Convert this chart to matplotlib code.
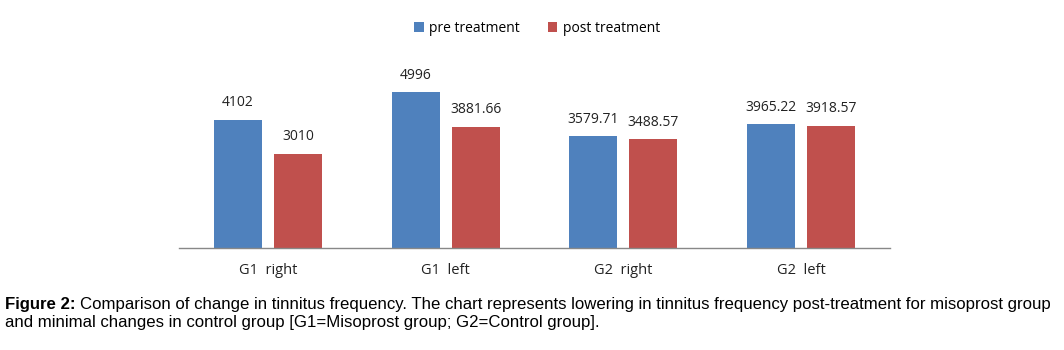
import matplotlib
matplotlib.use("Agg")
import matplotlib.pyplot as plt
import numpy as np

categories = ["G1  right", "G1  left", "G2  right", "G2  left"]
pre_vals = [4102, 4996, 3579.71, 3965.22]
post_vals = [3010, 3881.66, 3488.57, 3918.57]
pre_labels = ["4102", "4996", "3579.71", "3965.22"]
post_labels = ["3010", "3881.66", "3488.57", "3918.57"]
series_names = ["pre treatment", "post treatment"]

blue = "#4F81BD"
red = "#C0504D"

W, H = 1064, 350
fig = plt.figure(figsize=(W / 100, H / 100), dpi=100)
ax = fig.add_axes([179 / W, 1 - 248 / H, (890 - 179) / W, 187 / H])

x = np.arange(len(categories))
bw = 0.27
off = 0.169
ax.bar(x - off, pre_vals, bw, color=blue, label=series_names[0])
ax.bar(x + off, post_vals, bw, color=red, label=series_names[1])

lab_font = "Open Sans"
for xi, v, t in zip(x, pre_vals, pre_labels):
    ax.annotate(t, (xi - off, v), xytext=(0, 7), textcoords="offset points",
                ha="center", va="bottom", fontsize=10, family=lab_font, color="#222222")
for xi, v, t in zip(x, post_vals, post_labels):
    ax.annotate(t, (xi + off, v), xytext=(0, 7), textcoords="offset points",
                ha="center", va="bottom", fontsize=10, family=lab_font, color="#222222")

ax.set_xlim(-0.5, 3.5)
ax.set_ylim(0, 6000)
ax.set_yticks([])
ax.set_xticks(x)
ax.set_xticklabels(categories, fontsize=10.5, family=lab_font, color="#222222")
ax.tick_params(axis="x", length=0, pad=11)
for s in ["top", "right", "left"]:
    ax.spines[s].set_visible(False)
ax.spines["bottom"].set_color("#888888")
ax.spines["bottom"].set_linewidth(1.0)

fig.legend(loc="center", bbox_to_anchor=(537 / W, 1 - 28 / H), ncol=2,
           frameon=False, prop={"family": lab_font, "size": 10},
           handlelength=0.7, handleheight=0.7, handletextpad=0.4,
           columnspacing=2.0)

cap_size = 12.1
bold = fig.text(5 / W, 1 - 304 / H, "Figure 2:", fontsize=cap_size, va="center",
                family="Liberation Sans", weight="bold")
fig.canvas.draw()
bb = bold.get_window_extent(renderer=fig.canvas.get_renderer())
fig.text((bb.x1 + 4) / W, 1 - 304 / H,
         "Comparison of change in tinnitus frequency. The chart represents lowering in tinnitus frequency post-treatment for misoprost group",
         fontsize=cap_size, va="center", family="Liberation Sans")
fig.text(5 / W, 1 - 322 / H,
         "and minimal changes in control group [G1=Misoprost group; G2=Control group].",
         fontsize=cap_size, va="center", family="Liberation Sans")

fig.savefig("out.png", dpi=100, facecolor="white")
